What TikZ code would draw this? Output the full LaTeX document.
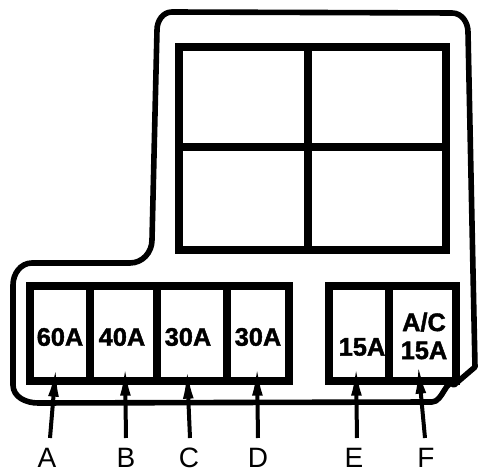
\documentclass[tikz,border=0pt]{standalone}
\usepackage{fontspec}
\setmainfont{Liberation Sans}
\newfontfamily\ampfont[FakeBold=1.6]{Liberation Sans Bold}
\usetikzlibrary{arrows.meta}
\tikzset{
  fat/.style={line width=5.4pt},
  shell/.style={line width=4.2pt, line join=round},
  amp/.style={font=\fontsize{19}{21}\selectfont\ampfont, inner sep=0pt, align=center},
  pin/.style={font=\fontsize{21}{23}\selectfont, inner sep=0pt},
  lead/.style={line width=3pt, -{Latex[length=23pt,width=8pt]}},
}
\begin{document}
\begin{tikzpicture}[x=0.75pt,y=-0.75pt]
    \useasboundingbox (0,0) rectangle (479,473);
    % outer shell
    \draw [shell] (13,285) to [out=90,in=180] (32,263) -- (130,263)
      to [out=0,in=-90] (152,240) -- (157,30) to [out=90,in=180] (172,12)
      -- (452,13) to [out=0,in=90] (468,32) -- (475,367) -- (454,385)
      to [out=135,in=0] (432,402) -- (38,403) to [out=180,in=-90] (13,385) -- cycle;
    % relay block
    \draw [fat] (179,47) rectangle (446,250);
    \draw [fat] (308,47) -- (308,250);
    \draw [fat] (179,147) -- (446,147);
    % fuse blocks
    \draw [fat] (30,286) rectangle (289,381);
    \draw [fat] (90,286) -- (90,381);
    \draw [fat] (157,286) -- (157,381);
    \draw [fat] (227,286) -- (227,381);
    \draw [fat] (329,286) rectangle (456,381);
    \draw [fat] (389,286) -- (389,381);
    % ratings
    \node [amp] (r60) at (60,337) {60A};
    \node [amp] (r40) at (122,337) {40A};
    \node [amp] (r30a) at (188,337) {30A};
    \node [amp] (r30b) at (258,337) {30A};
    \node [amp] (r15a) at (362,347) {15A};
    \node [amp] (r15b) at (424,336) {A/C\\15A};
    % letters
    \node [pin] (a) at (47,458) {A};
    \node [pin] (b) at (126,458) {B};
    \node [pin] (c) at (189,458) {C};
    \node [pin] (d) at (258,458) {D};
    \node [pin] (e) at (354,458) {E};
    \node [pin] (f) at (426,458) {F};
    \coordinate (ta) at (56,366);
    \coordinate (tb) at (125,365);
    \coordinate (tc) at (187,368);
    \coordinate (td) at (257,365);
    \coordinate (te) at (356,365);
    \coordinate (tf) at (418,363);
    \draw [lead] (a) ++(3,-20) -- (ta);
    \draw [lead] (b) ++(0,-20) -- (tb);
    \draw [lead] (c) ++(1,-20) -- (tc);
    \draw [lead] (d) ++(0,-20) -- (td);
    \draw [lead] (e) ++(3,-20) -- (te);
    \draw [lead] (f) ++(-1,-20) -- (tf);
  \end{tikzpicture}
\end{document}
